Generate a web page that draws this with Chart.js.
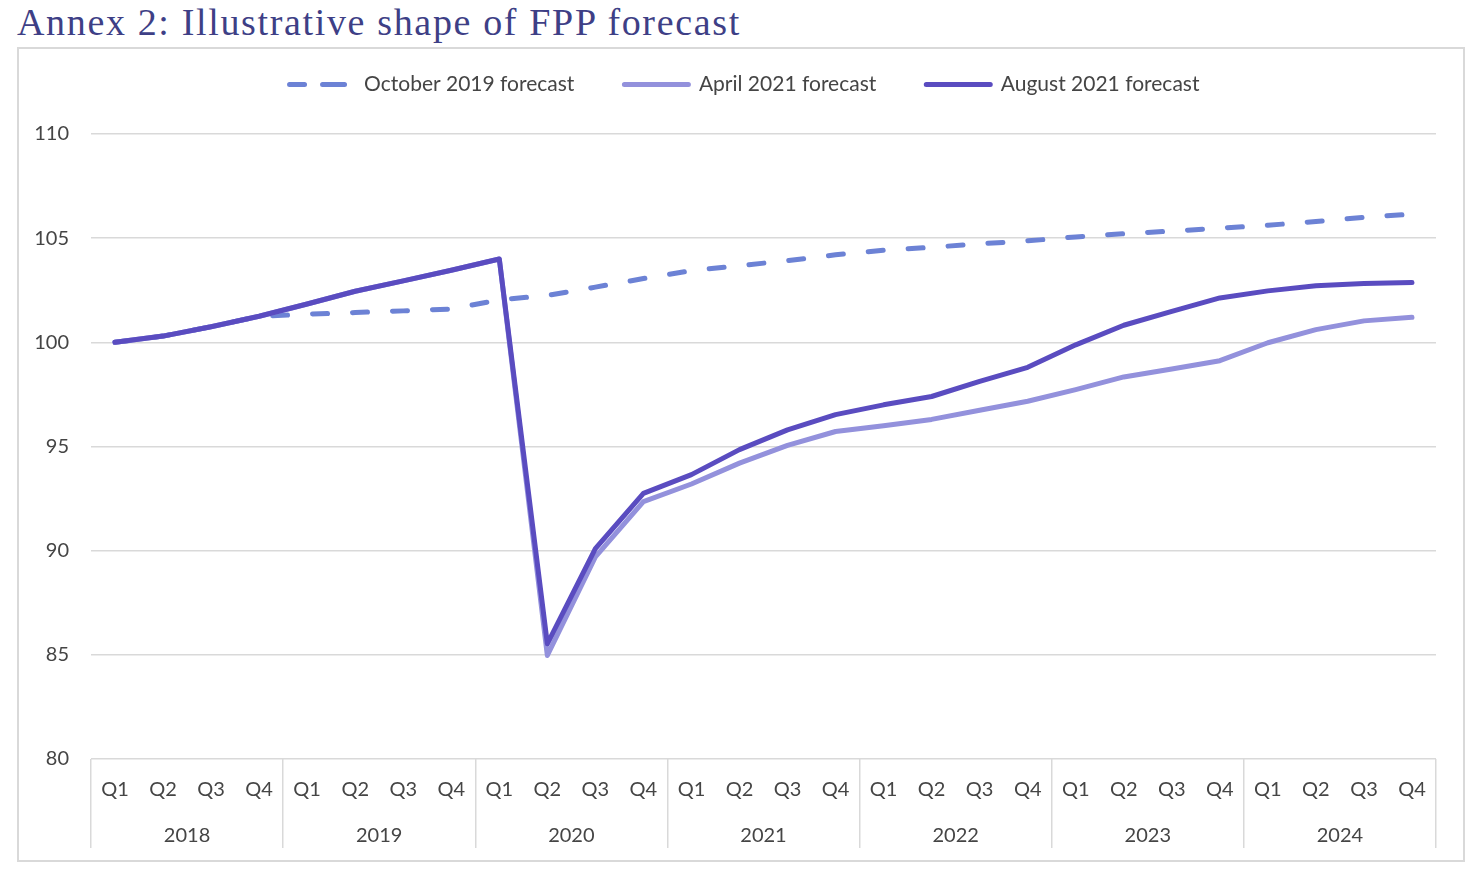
<!DOCTYPE html>
<html>
<head>
<meta charset="utf-8">
<script src="https://cdn.jsdelivr.net/npm/chart.js@4/dist/chart.umd.min.js"></script>
<style>
  html, body { margin: 0; padding: 0; background: #ffffff; width: 1480px; height: 890px; overflow: hidden; }
  #title { position: absolute; left: 17px; top: -1px; margin: 0; font-family: "Liberation Serif", "DejaVu Serif", serif; font-weight: normal; font-size: 38px; letter-spacing: 1.65px; line-height: 46px; color: #3e3f86; white-space: nowrap; }
  #box { position: absolute; left: 17px; top: 47px; width: 1444px; height: 811px; border: 2px solid #d9d9d9; }
  #box canvas { display: block; }
</style>
</head>
<body>
<h1 id="title">Annex 2: Illustrative shape of FPP forecast</h1>
<div id="box"><canvas id="c" width="1444" height="811"></canvas></div>
<script>
const quarters = ['Q1','Q2','Q3','Q4','Q1','Q2','Q3','Q4','Q1','Q2','Q3','Q4','Q1','Q2','Q3','Q4','Q1','Q2','Q3','Q4','Q1','Q2','Q3','Q4','Q1','Q2','Q3','Q4'];
const years = ['2018','2019','2020','2021','2022','2023','2024'];
const yTicks = [80, 85, 90, 95, 100, 105, 110];

const october2019 = [100.0, 100.3, 100.75, 101.25, 101.35, 101.43, 101.51, 101.6, 102.04, 102.25, 102.65, 103.06, 103.44, 103.68, 103.92, 104.2, 104.42, 104.56, 104.73, 104.87, 105.06, 105.21, 105.34, 105.48, 105.62, 105.8, 106.0, 106.15];
const april2021 = [100.0, 100.3, 100.75, 101.25, 101.84, 102.45, 102.95, 103.46, 104.0, 84.97, 89.7, 92.35, 93.2, 94.2, 95.05, 95.72, 96.0, 96.3, 96.74, 97.17, 97.73, 98.34, 98.72, 99.12, 99.98, 100.61, 101.03, 101.2];
const august2021 = [100.0, 100.3, 100.75, 101.25, 101.84, 102.45, 102.95, 103.46, 104.0, 85.53, 90.1, 92.75, 93.65, 94.85, 95.8, 96.53, 97.0, 97.4, 98.13, 98.8, 99.88, 100.82, 101.49, 102.13, 102.47, 102.72, 102.82, 102.87];

const seriesNames = ['October 2019 forecast', 'April 2021 forecast', 'August 2021 forecast'];

const FONT = 'Lato, "Open Sans", sans-serif';
const TXT = '#454545';
const GRID = '#d9d9d9';

const legendSpacer = {
  id: 'legendSpacer',
  beforeInit(chart) {
    const orig = chart.legend.fit;
    chart.legend.fit = function () {
      orig.call(this);
      this.height = 110;
    };
  },
  afterLayout(chart) {
    chart.legend.left += 17;
    chart.legend.right += 17;
  }
};

new Chart(document.getElementById('c'), {
  type: 'line',
  data: {
    labels: quarters,
    datasets: [
      { label: seriesNames[0], data: october2019, borderColor: '#6c82d5', backgroundColor: '#6c82d5', borderWidth: 5, borderDash: [15, 25], borderCapStyle: 'round', borderJoinStyle: 'round', pointRadius: 0, tension: 0, order: 2 },
      { label: seriesNames[1], data: april2021, borderColor: '#9391dc', backgroundColor: '#9391dc', borderWidth: 5, borderCapStyle: 'round', borderJoinStyle: 'round', pointRadius: 0, tension: 0, order: 1 },
      { label: seriesNames[2], data: august2021, borderColor: '#5a4cc0', backgroundColor: '#5a4cc0', borderWidth: 5, borderCapStyle: 'round', borderJoinStyle: 'round', pointRadius: 0, tension: 0, order: 0 }
    ]
  },
  options: {
    responsive: false,
    animation: false,
    events: [],
    layout: { padding: { top: -25, left: 0, right: 27, bottom: 12 } },
    plugins: {
      tooltip: { enabled: false },
      title: { display: false },
      legend: {
        display: true,
        position: 'top',
        align: 'center',
        labels: {
          boxWidth: 64,
          boxHeight: 0,
          padding: 50,
          color: TXT,
          font: { family: FONT, size: 21 },
          sort: (a, b) => a.datasetIndex - b.datasetIndex
        }
      }
    },
    scales: {
      x: {
        type: 'category',
        position: 'bottom',
        offset: true,
        weight: 0,
        grid: {
          display: true,
          offset: true,
          drawOnChartArea: false,
          drawTicks: true,
          tickLength: 89,
          lineWidth: 1.5,
          color: (ctx) => (ctx.index === undefined || ctx.index % 4 === 0) ? GRID : 'rgba(0,0,0,0)'
        },
        border: { display: false },
        ticks: {
          color: TXT,
          font: { family: FONT, size: 20 },
          padding: -70,
          maxRotation: 0,
          autoSkip: false
        },
        afterFit: (scale) => { scale.height = 45; }
      },
      x2: {
        type: 'category',
        labels: years,
        position: 'bottom',
        offset: true,
        weight: 1,
        grid: { display: false, drawTicks: false, drawOnChartArea: false },
        border: { display: false },
        ticks: {
          color: TXT,
          font: { family: FONT, size: 20 },
          padding: 20,
          maxRotation: 0,
          autoSkip: false
        },
        afterFit: (scale) => { scale.height = 44; }
      },
      y: {
        type: 'linear',
        min: yTicks[0],
        max: yTicks[yTicks.length - 1],
        afterBuildTicks: (scale) => { scale.ticks = yTicks.map(v => ({ value: v })); },
        grid: { color: GRID, lineWidth: 1.5, drawTicks: false },
        border: { display: false },
        ticks: {
          color: TXT,
          font: { family: FONT, size: 20 },
          padding: 22
        },
        afterFit: (scale) => { scale.width = 72; }
      }
    }
  },
  plugins: [legendSpacer]
});
</script>
</body>
</html>
